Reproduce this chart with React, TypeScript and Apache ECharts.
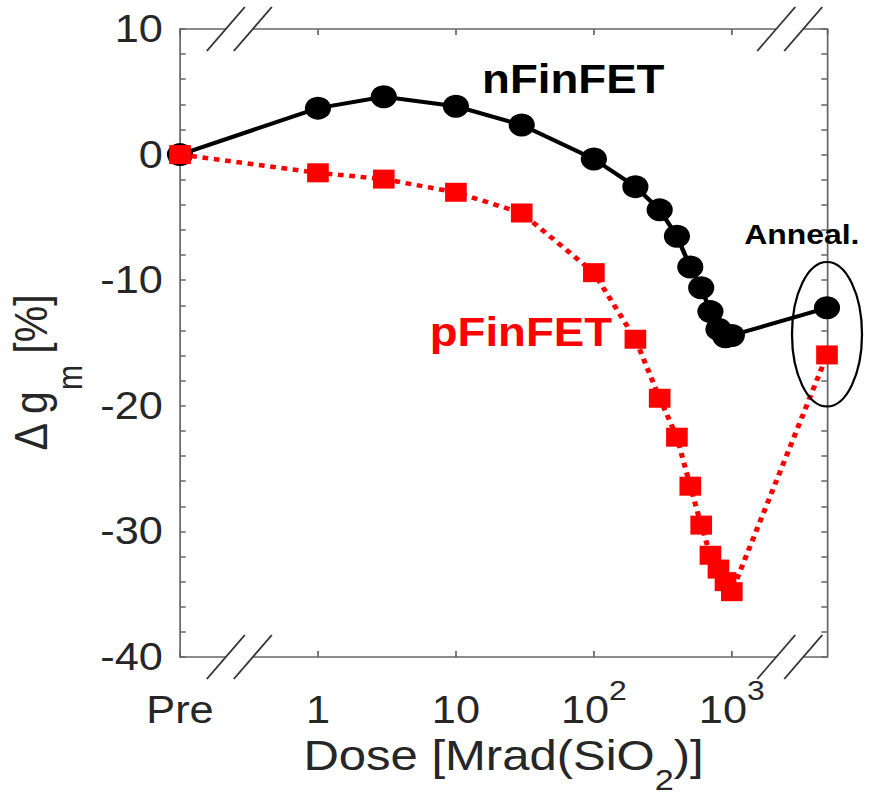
import React, { useEffect, useRef } from 'react';
import * as echarts from 'echarts';

// ---------- data ----------
const doses: (number | string)[] = ['Pre', 1, 3, 10, 30, 100, 200, 300, 400, 500, 600, 700, 800, 900, 1000, 'Anneal'];
const nFinFET = [0, 3.7, 4.6, 3.85, 2.35, -0.35, -2.55, -4.4, -6.5, -8.95, -10.6, -12.5, -13.9, -14.5, -14.4, -12.2];
const pFinFET = [0, -1.45, -1.95, -3.0, -4.65, -9.4, -14.7, -19.4, -22.5, -26.4, -29.5, -31.9, -33.0, -34.0, -34.8, -15.95];
const xTickLabels = ['Pre', '1', '10', '10^2', '10^3'];
const yMin = -40;
const yMax = 10;
const yStep = 10;

// axis-space positions of the non-numeric doses (broken log axis)
const PRE_X = -1;
const ANNEAL_X = 3.69;
const X_MAX = 3.69;

// ---------- layout ----------
const S = 1.14; // horizontal stretch of the original figure
const W = 879 / S;
const H = 798;
const FONT = "'Liberation Sans', Arial, Helvetica, sans-serif";
const TXT = '#262626';
const AXIS = '#666666';

const toX = (d: number | string) => (d === 'Pre' ? PRE_X : d === 'Anneal' ? ANNEAL_X : Math.log10(d as number));

const xLabel = (v: number) => {
  const r = Math.round(v);
  if (Math.abs(v - r) > 1e-6) return '';
  const i = r - PRE_X;
  if (i < 0 || i >= xTickLabels.length) return '';
  const t = xTickLabels[i];
  if (t.includes('^')) {
    const [b, e] = t.split('^');
    return `{n|${b}}{s|${e}}`;
  }
  return `{n|${t}}`;
};

export default function App() {
  const ref = useRef<HTMLDivElement>(null);
  useEffect(() => {
    document.body.style.margin = '0';
    const chart = echarts.init(ref.current!, null, { renderer: 'svg' });
    const axisCommon = {
      type: 'value' as const,
      axisLine: { show: true, onZero: false, lineStyle: { color: AXIS, width: 1.5 } },
      splitLine: { show: false },
    };
    chart.setOption({
      animation: false,
      backgroundColor: '#ffffff',
      textStyle: { fontFamily: FONT },
      grid: {
        left: 180 / S,
        top: 29,
        width: (827 - 180) / S,
        height: 628,
        containLabel: false,
        outerBoundsMode: 'none',
      },
      xAxis: [
        {
          ...axisCommon,
          position: 'bottom',
          min: PRE_X,
          max: X_MAX,
          interval: 1,
          axisTick: { show: true, inside: true, length: 6, lineStyle: { color: AXIS, width: 1.5 } },
          axisLabel: {
            show: true,
            margin: 16,
            color: TXT,
            formatter: xLabel,
            showMaxLabel: false,
            rich: {
              n: { fontSize: 38, lineHeight: 56, verticalAlign: 'bottom', color: TXT, fontFamily: FONT },
              s: { fontSize: 28, lineHeight: 31, padding: [0, 0, 25, 0], verticalAlign: 'bottom', color: TXT, fontFamily: FONT },
            },
          },
          name: '{a|Dose [Mrad(SiO}{b|2}{a|)]}',
          nameLocation: 'middle',
          nameGap: 69,
          nameTextStyle: {
            rich: {
              a: { fontSize: 43, lineHeight: 48, verticalAlign: 'top', color: TXT, fontFamily: FONT },
              b: { fontSize: 30, lineHeight: 30, padding: [31, 0, 0, 0], verticalAlign: 'top', color: TXT, fontFamily: FONT },
            },
          },
        },
        {
          ...axisCommon,
          position: 'top',
          min: PRE_X,
          max: X_MAX,
          interval: 1,
          axisTick: { show: true, inside: true, length: 6, lineStyle: { color: AXIS, width: 1.5 } },
          axisLabel: { show: false },
        },
      ],
      yAxis: [
        {
          ...axisCommon,
          position: 'left',
          min: yMin,
          max: yMax,
          interval: yStep,
          axisTick: { show: true, inside: true, length: 5, lineStyle: { color: AXIS, width: 1.5 } },
          minorTick: { show: true, splitNumber: 5, length: 5, lineStyle: { color: AXIS, width: 1.5 } },
          axisLabel: { show: true, margin: 15, fontSize: 38, color: TXT, fontFamily: FONT },
          name: '{a|Δ g}{b|m}{a| [%]}',
          nameLocation: 'middle',
          nameRotate: 90,
          nameGap: 62,
          nameTextStyle: {
            padding: [0, 60, 0, 0],
            rich: {
              a: { fontSize: 41, lineHeight: 44, verticalAlign: 'top', color: TXT, fontFamily: FONT },
              b: { fontSize: 30, lineHeight: 30, padding: [41, 0, 0, 0], verticalAlign: 'top', color: TXT, fontFamily: FONT },
            },
          },
        },
        {
          ...axisCommon,
          position: 'right',
          min: yMin,
          max: yMax,
          interval: yStep,
          axisTick: { show: true, inside: true, length: 5, lineStyle: { color: AXIS, width: 1.5 } },
          minorTick: { show: true, splitNumber: 5, length: 5, lineStyle: { color: AXIS, width: 1.5 } },
          axisLabel: { show: false },
        },
      ],
      series: [
        {
          name: 'nFinFET',
          type: 'line',
          data: doses.map((d, i) => [toX(d), nFinFET[i]]),
          symbol: 'circle',
          symbolSize: 23,
          itemStyle: { color: '#000000' },
          lineStyle: { color: '#000000', width: 4 },
          clip: false,
          z: 3,
        },
        {
          name: 'pFinFET',
          type: 'line',
          data: doses.map((d, i) => [toX(d), pFinFET[i]]),
          symbol: 'rect',
          symbolSize: 19,
          itemStyle: { color: '#ff0000' },
          lineStyle: { color: '#ff0000', width: 4.5, type: [5, 5] },
          clip: false,
          z: 4,
        },
      ],
    });

    // decorations placed in axis space
    const px = (x: number, y: number) => chart.convertToPixel({ gridIndex: 0 }, [x, y]) as number[];
    const top = px(0, yMax)[1];
    const bottom = px(0, yMin)[1];
    const breaks = [-0.57, 3.42];
    const hw = 19 / S;
    const hh = 22;
    const off = 13.5 / S;
    const graphic: any[] = [];
    breaks.forEach((bx) => {
      const cx = px(bx, 0)[0];
      [top, bottom].forEach((cy) => {
        graphic.push({
          type: 'rect',
          shape: { x: cx - off, y: cy - 2.5, width: 2 * off, height: 5 },
          style: { fill: '#ffffff' },
          z: 100,
        });
        [-off, off].forEach((o) => {
          graphic.push({
            type: 'line',
            shape: { x1: cx + o - hw, y1: cy + hh, x2: cx + o + hw, y2: cy - hh },
            style: { stroke: '#333333', lineWidth: 1.6 },
            z: 101,
          });
        });
      });
    });
    const ell = px(ANNEAL_X, -14.3);
    const ellTop = px(ANNEAL_X, -14.3 + 5.75)[1];
    graphic.push({
      type: 'ellipse',
      shape: { cx: ell[0], cy: ell[1], rx: 35 / S, ry: ell[1] - ellTop },
      style: { fill: 'none', stroke: '#000000', lineWidth: 2 },
      z: 102,
    });
    const labels = [
      { text: 'nFinFET', x: 1.19, y: 6.0, size: 40, color: '#000000' },
      { text: 'pFinFET', x: 0.81, y: -14.1, size: 40, color: '#ff0000' },
      { text: 'Anneal.', x: 3.09, y: -6.3, size: 28, color: '#000000' },
    ];
    labels.forEach((l) => {
      const p = px(l.x, l.y);
      graphic.push({
        type: 'text',
        x: p[0],
        y: p[1],
        style: {
          text: l.text,
          fill: l.color,
          font: `bold ${l.size}px ${FONT}`,
          textAlign: 'left',
          textVerticalAlign: 'middle',
        },
        z: 103,
      });
    });
    chart.setOption({ graphic });

    return () => chart.dispose();
  }, []);

  return (
    <div
      ref={ref}
      style={{ width: W, height: H, transform: `scaleX(${S})`, transformOrigin: '0 0', overflow: 'hidden' }}
    />
  );
}
